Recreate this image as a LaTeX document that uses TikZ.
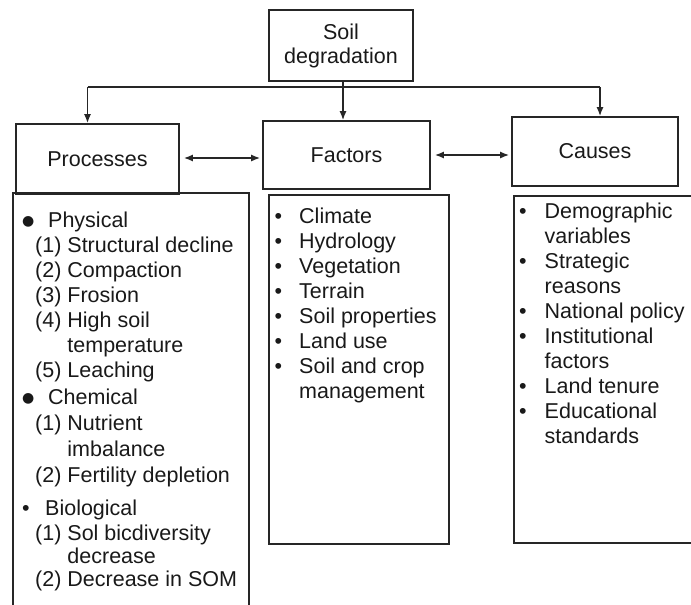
\documentclass[tikz,border=0pt]{standalone}
\usepackage{fontspec}
\setmainfont{Liberation Sans}
\newfontfamily\dotfont{DejaVu Sans}
\usetikzlibrary{arrows.meta}

\newcommand{\bigdot}{\raisebox{1.5pt}{\dotfont\fontsize{14}{14}\selectfont ●}}
\newcommand{\phead}[1]{\makebox[26pt][l]{\bigdot}#1}
\newcommand{\pitem}[1]{\hspace{13pt}#1}
\newcommand{\pcont}[1]{\hspace{13pt}\phantom{(4) }#1}

\tikzset{
  hbox/.style={draw=black!85, line width=1.6pt, text=black!90, font=\fontsize{21.5}{24}\selectfont, inner sep=0pt},
  listbox/.style={draw=black!85, line width=1.6pt, anchor=north west, inner sep=0pt},
  listtext/.style={anchor=base west, inner sep=0pt, text=black!90, font=\fontsize{21.5}{25}\selectfont},
  link/.style={line width=1.6pt, draw=black!85},
  arr/.style={link, -{Latex[length=9pt,width=7pt]}},
  dblarr/.style={link, {Latex[length=9pt,width=7pt]}-{Latex[length=9pt,width=7pt]}, shorten <=4pt, shorten >=2pt},
}

\begin{document}
\begin{tikzpicture}[x=1pt,y=-1pt]
\useasboundingbox (0,0) rectangle (691,605);
\node[hbox, minimum width=144pt, minimum height=71pt, align=center] (soil) at (341,45.5) {Soil\\degradation};
\node[hbox, minimum width=163pt, minimum height=70pt] (proc) at (97.5,159) {Processes};
\node[hbox, minimum width=167pt, minimum height=68pt] (fact) at (346.5,155) {Factors};
\node[hbox, minimum width=166pt, minimum height=69pt] (cause) at (595,151.5) {Causes};
\begin{scope}
\clip (0,0) rectangle (691,605);
\node[listbox, minimum width=236pt, minimum height=430pt] (proclist) at (12,192) {};
\node[listbox, minimum width=180pt, minimum height=349pt] (factlist) at (268,194) {};
\node[listbox, minimum width=240pt, minimum height=347pt] (causelist) at (513,195) {};
\end{scope}
\node[listtext] (proctext) at (22,227) {\begin{tabular}[t]{@{}l@{}}
\phead{Physical}\\
\pitem{(1) Structural decline}\\
\pitem{(2) Compaction}\\
\pitem{(3) Frosion}\\
\pitem{(4) High soil}\\
\pcont{temperature}\\
\pitem{(5) Leaching}\\[2pt]
\phead{Chemical}\\[1pt]
\pitem{(1) Nutrient}\\[1pt]
\pcont{imbalance}\\[1pt]
\pitem{(2) Fertility depletion}\\[8pt]
\makebox[23pt][l]{\textbullet}Biological\\
\pitem{(1) Sol bicdiversity}\\[-2pt]
\pcont{decrease}\\[-2pt]
\pitem{(2) Decrease in SOM}
\end{tabular}};
\node[listtext] (facttext) at (274.5,223) {\begin{tabular}[t]{@{}l@{\hspace{17pt}}l@{}}
\textbullet & Climate\\
\textbullet & Hydrology\\
\textbullet & Vegetation\\
\textbullet & Terrain\\
\textbullet & Soil properties\\
\textbullet & Land use\\
\textbullet & Soil and crop\\
 & management
\end{tabular}};
\node[listtext] (causetext) at (519,218) {\begin{tabular}[t]{@{}l@{\hspace{18pt}}l@{}}
\textbullet & Demographic\\
 & variables\\
\textbullet & Strategic\\
 & reasons\\
\textbullet & National policy\\
\textbullet & Institutional\\
 & factors\\
\textbullet & Land tenure\\
\textbullet & Educational\\
 & standards
\end{tabular}};
\coordinate (bus) at (0,87);
\coordinate (pdrop) at ([xshift=-10pt]proc.north);
\coordinate (mdrop) at ([xshift=2pt]soil.south);
\coordinate (cdrop) at ([xshift=5pt]cause.north);
\draw[link] (mdrop) -- (mdrop |- bus);
\draw[link] (pdrop |- bus) -- (cdrop |- bus);
\draw[arr] (pdrop |- bus) -- (pdrop);
\draw[arr] (mdrop |- bus) -- (mdrop |- fact.north);
\draw[arr] (cdrop |- bus) -- (cdrop);
\draw[dblarr] ([yshift=1pt]proc.east) -- ([yshift=1pt]proc.east -| fact.west);
\draw[dblarr] (fact.east) -- (fact.east -| cause.west);
\end{tikzpicture}
\end{document}
